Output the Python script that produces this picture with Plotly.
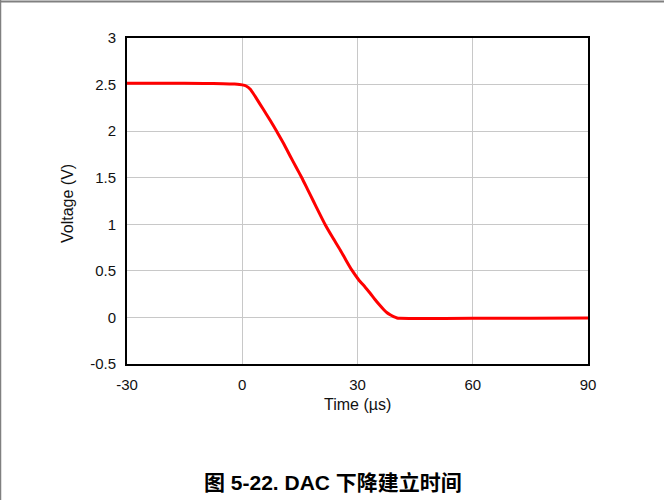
import plotly.graph_objects as go

time_us = [-30, -20, -10, -5, -2, 0, 1, 2.1, 3.4, 4.7, 6.0, 7.3, 9.0, 10.8, 12.5, 14.0, 15.5, 17.0,
           18.5, 20.0, 21.6, 23.5, 25.5, 27.0, 28.5, 30.3, 32.0, 33.3, 34.5, 35.7, 36.8, 37.7, 38.5,
           39.4, 40.3, 41, 45, 60, 75, 90]
voltage_v = [2.515, 2.515, 2.512, 2.51, 2.505, 2.497, 2.485, 2.45, 2.37, 2.285, 2.2, 2.115, 1.995, 1.865,
             1.73, 1.615, 1.5, 1.375, 1.25, 1.125, 0.995, 0.86, 0.725, 0.615, 0.51, 0.405, 0.325, 0.26,
             0.195, 0.135, 0.085, 0.05, 0.028, 0.008, -0.006, -0.01, -0.012, -0.01, -0.008, -0.005]

x_ticks = [-30, 0, 30, 60, 90]
x_tick_labels = ["-30", "0", "30", "60", "90"]
y_ticks = [-0.5, 0, 0.5, 1, 1.5, 2, 2.5, 3]
y_tick_labels = ["-0.5", "0", "0.5", "1", "1.5", "2", "2.5", "3"]

x_title = "Time (µs)"
y_title = "Voltage (V)"
caption = "图 5-22. DAC 下降建立时间"

W, H = 664, 500
L, R, T, B = 127, 76, 38, 136
pw, ph = W - L - R, H - T - B

def px(xp):
    return (xp - L) / pw

def py(yp):
    return (H - B - yp) / ph

fig = go.Figure()
fig.add_trace(go.Scatter(x=time_us, y=voltage_v, mode="lines",
                         line=dict(color="#ff0000", width=3, shape="spline", smoothing=0.5),
                         showlegend=False))

font_main = "Liberation Sans, Arial, sans-serif"
fig.update_layout(
    width=W, height=H,
    margin=dict(l=L, r=R, t=T, b=B),
    paper_bgcolor="white", plot_bgcolor="white",
    font=dict(family=font_main, size=15, color="#111111"),
    xaxis=dict(range=[-30, 90], tickvals=x_ticks, ticktext=x_tick_labels, showgrid=True,
               gridcolor="#c8c8c8", gridwidth=1,
               showline=True, linecolor="black", linewidth=2, mirror=True, zeroline=False,
               ticks="", ticklabelstandoff=6, tickfont=dict(size=15)),
    yaxis=dict(range=[-0.5, 3], tickvals=y_ticks, ticktext=y_tick_labels, showgrid=True,
               gridcolor="#c8c8c8", gridwidth=1, showline=True, linecolor="black", linewidth=2,
               mirror=True, zeroline=False, ticks="", ticklabelstandoff=6, tickfont=dict(size=15)),
)

fig.add_annotation(text=x_title, x=px(357), y=py(404), xref="paper", yref="paper",
                   showarrow=False, font=dict(size=16, family=font_main), xanchor="center", yanchor="middle")
fig.add_annotation(text=y_title, x=px(68), y=py(204), xref="paper", yref="paper", textangle=-90,
                   showarrow=False, font=dict(size=16, family=font_main), xanchor="center", yanchor="middle")
fig.add_annotation(text="<b>" + caption + "</b>", x=px(333), y=py(482), xref="paper", yref="paper",
                   showarrow=False, font=dict(size=21, family="Liberation Sans, Noto Sans CJK SC, sans-serif",
                                              color="black"),
                   xanchor="center", yanchor="middle")

# page border lines (top and left)
fig.add_shape(type="line", xref="paper", yref="paper", x0=px(0), x1=px(W), y0=py(1.5), y1=py(1.5),
              line=dict(color="#808080", width=2))
fig.add_shape(type="line", xref="paper", yref="paper", x0=px(0.5), x1=px(0.5), y0=py(0), y1=py(H),
              line=dict(color="#808080", width=1.5))

fig.write_html("out.html")
